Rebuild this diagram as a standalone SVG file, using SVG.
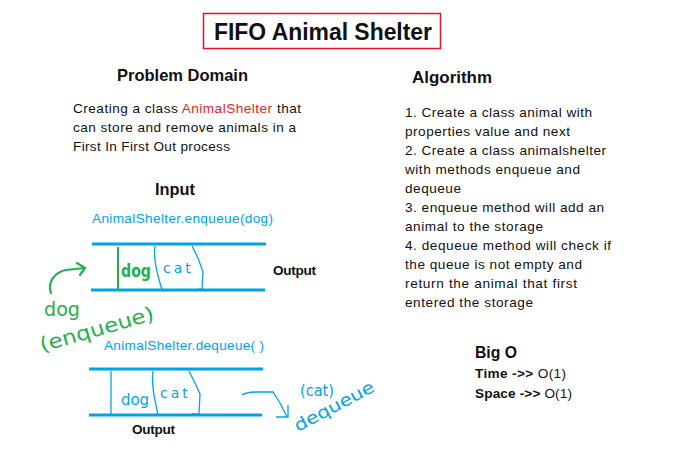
<svg xmlns="http://www.w3.org/2000/svg" width="674" height="476" viewBox="0 0 674 476">
<style>
text{font-family:"Liberation Sans",Arial,sans-serif;fill:#111}
.b{font-weight:bold}
.h{font-size:16.5px;font-weight:bold}
.p{font-size:13.6px}
.blue{fill:#00A2E8}
.q{stroke:#00A2E8;stroke-width:3;fill:none}
.thin{stroke:#00A2E8;stroke-width:1.3;fill:none}
.g{stroke:#22B14C;stroke-width:2.2;fill:none;stroke-linecap:round;stroke-linejoin:round}
.hw{font-family:"DejaVu Sans",sans-serif}
</style>
<rect width="674" height="476" fill="#fff"/>

<g id="title">
<rect x="203.5" y="13.5" width="237" height="35" fill="none" stroke="#E81123" stroke-width="1.5"/>
<text x="214" y="40" class="b" font-size="24" textLength="218" lengthAdjust="spacingAndGlyphs">FIFO Animal Shelter</text>
</g>

<g id="problem-domain">
<text x="117" y="81" class="h" textLength="131" lengthAdjust="spacingAndGlyphs">Problem Domain</text>
<text x="73" y="113" class="p" textLength="228">Creating a class <tspan fill="#ED1C24">AnimalShelter</tspan> that</text>
<text x="73" y="132" class="p" textLength="223">can store and remove animals in a</text>
<text x="73" y="151" class="p" textLength="157">First In First Out process</text>
</g>

<g id="algorithm">
<text x="412" y="83" class="h" textLength="80" lengthAdjust="spacingAndGlyphs">Algorithm</text>
<text x="405" y="117" class="p" textLength="187">1. Create a class animal with</text>
<text x="405" y="136" class="p" textLength="165">properties value and next</text>
<text x="405" y="155" class="p" textLength="201">2. Create a class animalshelter</text>
<text x="405" y="174" class="p" textLength="175">with methods enqueue and</text>
<text x="405" y="193" class="p" textLength="56">dequeue</text>
<text x="405" y="212" class="p" textLength="199">3. enqueue method will add an</text>
<text x="405" y="231" class="p" textLength="138">animal to the storage</text>
<text x="405" y="250" class="p" textLength="206">4. dequeue method will check if</text>
<text x="405" y="269" class="p" textLength="177">the queue is not empty and</text>
<text x="405" y="288" class="p" textLength="172">return the animal that first</text>
<text x="405" y="307" class="p" textLength="128">entered the storage</text>
</g>

<g id="input">
<text x="155" y="195" class="h" textLength="40" lengthAdjust="spacingAndGlyphs">Input</text>
<text x="92" y="223" class="p blue" textLength="181">AnimalShelter.enqueue(dog)</text>
</g>

<g id="enqueue-queue">
<line x1="92" y1="244" x2="266" y2="244" class="q"/>
<line x1="91" y1="290" x2="265" y2="290" class="q"/>
<line x1="118" y1="247" x2="118" y2="291" stroke="#22B14C" stroke-width="2"/>
<text x="121" y="277" class="hw" font-size="17" fill="#22B14C" font-weight="bold" textLength="30" lengthAdjust="spacingAndGlyphs" style="fill:#22B14C">dog</text>
<path d="M155,246 C153,260 158,276 162,290" class="thin"/>
<path d="M192,246 L198,258 L203,272 L202,289 L195,290" class="thin"/>
<text x="163" y="273" class="hw" font-size="14" letter-spacing="3" style="fill:#00A2E8">cat</text>
<text x="273" y="275" class="b" font-size="13.6" textLength="43">Output</text>
</g>

<g id="enqueue-note">
<path d="M51,293 C47,282 55,272 66,270 L84,268" class="g"/>
<path d="M77,263 L85,268 L80,275" class="g"/>
<text x="44" y="316" class="hw" font-size="20" textLength="36" lengthAdjust="spacingAndGlyphs" style="fill:#22B14C">dog</text>
<text x="0" y="0" class="hw" font-size="20" textLength="118" lengthAdjust="spacingAndGlyphs" transform="translate(42,352) rotate(-16)" style="fill:#22B14C">(enqueue)</text>
</g>

<g id="dequeue-label">
<text x="104" y="350" class="p blue" textLength="160">AnimalShelter.dequeue( )</text>
</g>

<g id="dequeue-queue">
<line x1="89" y1="369" x2="263" y2="369" class="q"/>
<line x1="89" y1="415" x2="262" y2="415" class="q"/>
<line x1="111" y1="371" x2="111" y2="415" class="thin"/>
<text x="121" y="405" class="hw" font-size="16" textLength="28" lengthAdjust="spacingAndGlyphs" style="fill:#00A2E8">dog</text>
<path d="M153,371 C151,385 155,400 158,415" class="thin"/>
<path d="M189,371 L195,383 L200,394 L199,414 L192,414" class="thin"/>
<text x="160" y="398" class="hw" font-size="14" letter-spacing="3" style="fill:#00A2E8">cat</text>
<text x="132" y="434" class="b" font-size="13.6" textLength="43">Output</text>
</g>

<g id="dequeue-note">
<path d="M242,395 Q246,392 258,392 L273,392 L280,403 L285,413 L287,417" class="thin"/>
<path d="M288,405 L288,417 L276,417" class="thin"/>
<text x="300" y="396" class="hw" font-size="15" textLength="34" lengthAdjust="spacingAndGlyphs" style="fill:#00A2E8">(cat)</text>
<text x="0" y="0" class="hw" font-size="17" textLength="88" lengthAdjust="spacingAndGlyphs" transform="translate(298,432) rotate(-28)" style="fill:#00A2E8">dequeue</text>
</g>

<g id="big-o">
<text x="475" y="358" class="h" textLength="42" lengthAdjust="spacingAndGlyphs">Big O</text>
<text x="475" y="378" font-size="13.6" textLength="91"><tspan font-weight="bold">Time -&gt;&gt;</tspan> O(1)</text>
<text x="475" y="398" font-size="13.6" textLength="97"><tspan font-weight="bold">Space -&gt;&gt;</tspan> O(1)</text>
</g>
</svg>
